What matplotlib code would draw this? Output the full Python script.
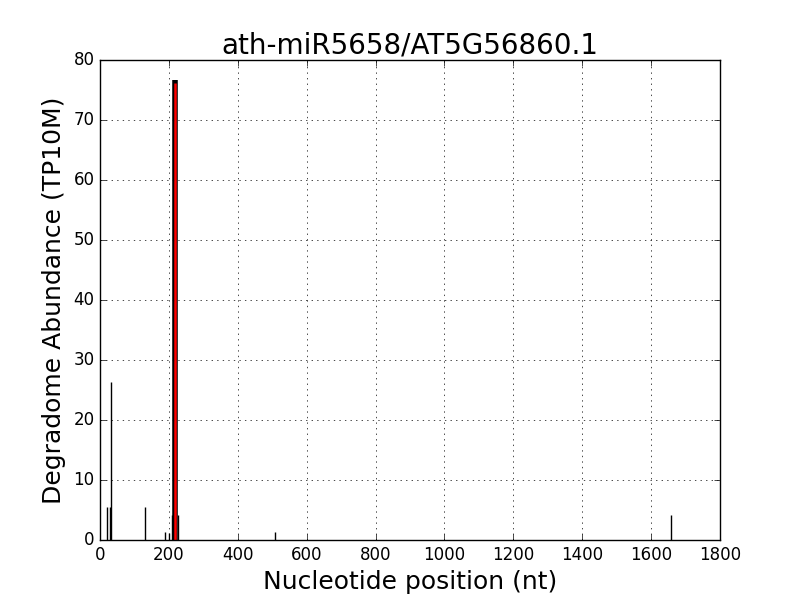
import matplotlib
matplotlib.use('Agg')
import matplotlib.pyplot as plt

plt.style.use('classic')

# degradome read positions and abundances (TP10M)
positions = [21, 29, 32, 132, 189, 201, 210, 226, 508, 1658]
abundance = [5.5, 5.5, 26.4, 5.5, 1.3, 1.2, 4.2, 4.2, 1.3, 4.2]

peak_pos = 217
peak_val = 76.7
site_pos = 218
site_val = 76.2

fig = plt.figure(figsize=(8, 6), dpi=100)
ax = fig.add_subplot(111)

ax.vlines(positions, 0, abundance, colors='k', linewidth=1)
ax.vlines([peak_pos], 0, [peak_val], colors='k', linewidth=4)
ax.vlines([site_pos], 0, [site_val], colors='r', linewidth=1.8)

ax.set_xlim(0, 1800)
ax.set_ylim(0, 80)
ax.grid(True)
ax.set_title('ath-miR5658/AT5G56860.1', fontsize=20)
ax.set_xlabel('Nucleotide position (nt)', fontsize=18)
ax.set_ylabel('Degradome Abundance (TP10M)', fontsize=18)

fig.savefig('out.png', dpi=100)
